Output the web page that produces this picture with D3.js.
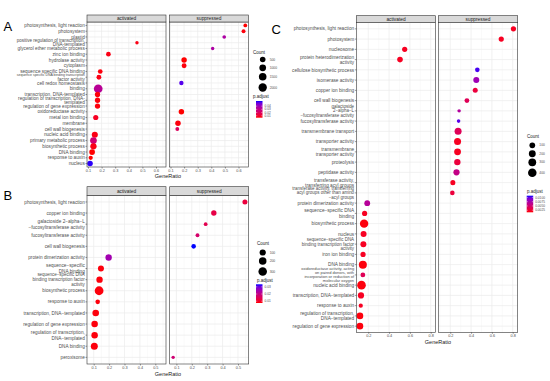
<!DOCTYPE html>
<html>
<head>
<meta charset="utf-8">
<script src="https://cdn.jsdelivr.net/npm/d3@7"></script>
<style>
  body { margin: 0; background: #fff; }
  svg { font-family: "Liberation Sans", Arial, sans-serif; }
</style>
</head>
<body>
<svg id="chart" width="550" height="381"></svg>
<script>
// ---- panel A data ----
var termsA = ["photosynthesis, light reaction", "photosystem", "plastid",
  "positive regulation of transcription,\nDNA-templated", "glycerol ether metabolic process",
  "zinc ion binding", "hydrolase activity", "cytoplasm", "sequence specific DNA binding",
  "sequence specific DNA binding transcription\nfactor activity", "cell redox homeostasis",
  "binding", "transcription, DNA-templated", "regulation of transcription, DNA-\ntemplated",
  "regulation of gene expression", "oxidoreductase activity", "metal ion binding", "membrane",
  "cell wall biogenesis", "nucleic acid binding", "primary metabolic process",
  "biosynthetic process", "DNA binding", "response to auxin", "nucleus"]
var groupA = ["s", "s", "s", "a", "s", "a", "s", "s", "a", "a", "s", "a", "a", "a", "a", "s", "a", "s", "s", "a", "a", "a", "a", "a", "a"]
var ratioA = [0.65, 0.637, 0.495, 0.46, 0.41, 0.25, 0.20, 0.20, 0.19, 0.18, 0.18, 0.175, 0.17, 0.17, 0.17, 0.18, 0.157, 0.155, 0.15, 0.15, 0.14, 0.14, 0.13, 0.12, 0.115]
var countA = [90, 110, 80, 60, 60, 250, 450, 300, 250, 280, 180, 2300, 400, 400, 400, 450, 380, 480, 100, 700, 1000, 800, 550, 150, 500]
var padjA = [0.004, 0.005, 0.036, 0.006, 0.036, 0.006, 0.004, 0.005, 0.005, 0.006, 0.052, 0.033, 0.005, 0.005, 0.005, 0.004, 0.008, 0.005, 0.02, 0.006, 0.025, 0.006, 0.004, 0.004, 0.055]
var countTicksA = [500, 1000, 1500, 2000]
var padjTicksA = [0.01, 0.02, 0.03, 0.04]
var xTicksA = [0.1, 0.2, 0.3, 0.4, 0.5, 0.6]

// ---- panel B data ----
var termsB = ["photosynthesis, light reaction", "copper ion binding",
  "galactoside 2\u2212alpha\u2212L\n\u2212fucosyltransferase activity", "fucosyltransferase activity",
  "cell wall biogenesis", "protein dimerization activity", "sequence\u2212specific\nDNA binding",
  "sequence\u2212specific DNA\nbinding transcription factor\nactivity", "biosynthetic process",
  "response to auxin", "transcription, DNA\u2212templated", "regulation of gene expression",
  "regulation of transcription,\nDNA\u2212templated", "DNA binding", "peroxisome"]
var groupB = ["s", "s", "s", "s", "s", "a", "a", "a", "a", "a", "a", "a", "a", "a", "s"]
var ratioB = [0.545, 0.343, 0.29, 0.237, 0.212, 0.197, 0.147, 0.138, 0.135, 0.126, 0.113, 0.106, 0.106, 0.104, 0.079]
var countB = [43, 58, 16, 17, 30, 112, 88, 112, 330, 30, 125, 120, 118, 155, 15]
var padjB = [0.012, 0.013, 0.014, 0.017, 0.034, 0.025, 0.008, 0.008, 0.008, 0.008, 0.008, 0.008, 0.008, 0.008, 0.018]
var countTicksB = [100, 200, 300]
var padjTicksB = [0.01, 0.02, 0.03]
var xTicksB = [0.1, 0.2, 0.3, 0.4, 0.5]

// ---- panel C data ----
var termsC = ["photosynthesis, light reaction", "photosystem", "nucleosome",
  "protein heterodimerization\nactivity", "cellulose biosynthetic process", "isomerase activity",
  "copper ion binding", "cell wall biogenesis", "galactoside\n2\u2212alpha\u2212L\n\u2212fucosyltransferase activity",
  "fucosyltransferase activity", "transmembrane transport", "transporter activity",
  "transmembrane\ntransporter activity", "proteolysis", "peptidase activity",
  "transferase activity,\ntransferring acyl groups",
  "transferase activity, transferring\nacyl groups other than amino\n\u2212acyl groups",
  "protein dimerization activity", "sequence\u2212specific DNA\nbinding", "biosynthetic process",
  "nucleus", "sequence\u2212specific DNA\nbinding transcription factor\nactivity", "iron ion binding",
  "DNA binding",
  "oxidoreductase activity, acting\non paired donors, with\nincorporation or reduction of\nmolecular oxygen",
  "nucleic acid binding", "transcription, DNA\u2212templated", "response to auxin",
  "regulation of transcription,\nDNA\u2212templated", "regulation of gene expression"]
var groupC = ["s", "s", "a", "a", "s", "s", "s", "s", "s", "s", "s", "s", "s", "s", "s", "s", "s",
  "a", "a", "a", "a", "a", "a", "a", "a", "a", "a", "a", "a", "a"]
var ratioC = [0.807, 0.69, 0.55, 0.505, 0.46, 0.45, 0.44, 0.36, 0.285, 0.28, 0.275, 0.27, 0.27, 0.268, 0.26, 0.225, 0.22,
  0.19, 0.165, 0.16, 0.155, 0.153, 0.15, 0.148, 0.148, 0.135, 0.13, 0.128, 0.12, 0.12]
var countC = [69, 69, 69, 93, 42, 121, 59, 50, 16, 17, 211, 211, 190, 154, 137, 59, 42,
  107, 69, 381, 121, 121, 69, 327, 50, 410, 137, 29, 172, 172]
var padjC = [0.002, 0.002, 0.002, 0.002, 0.0105, 0.008, 0.003, 0.004, 0.007, 0.0102, 0.004, 0.002, 0.002, 0.003, 0.006, 0.002, 0.003,
  0.0068, 0.002, 0.0015, 0.002, 0.002, 0.002, 0.0015, 0.004, 0.0015, 0.002, 0.002, 0.0015, 0.0015]
var countTicksC = [100, 200, 300, 400]
var padjTicksC = [0.0025, 0.005, 0.0075, 0.01]
var xTicksC = [0.2, 0.4, 0.6, 0.8]

var svg = d3.select("#chart")
var defs = svg.append("defs")
var txtCol = "#4d4d4d"
var lineCol = "#333333"

// size scale with an offset like ggplot's area palette
function makeSize(vmin, vmax, rmin, rmax) {
    var s = d3.scaleSqrt().domain([0, vmax - vmin]).range([0, rmax - rmin])
    return function(v) { return rmin + s(Math.max(0, v - vmin)) }
}

function drawPanel(p) {
    var g = svg.append("g")
    var color = d3.scaleLinear().domain(p.colorDomain).range(["red", "blue"]).interpolate(d3.interpolateLab)
    var size = makeSize(p.sizeDomain[0], p.sizeDomain[1], p.sizeRange[0], p.sizeRange[1])
    var y = d3.scalePoint().domain(p.terms).range(p.yRange).padding(0.6)

    var facets = [
        { key: "a", name: "activated", x: d3.scaleLinear().domain(p.xDomain).range(p.xa) },
        { key: "s", name: "suppressed", x: d3.scaleLinear().domain(p.xDomain).range(p.xs) }
    ]

    facets.forEach(function(f) {
        var x0 = f.x.range()[0], x1 = f.x.range()[1]
        var y0 = p.yRange[0], y1 = p.yRange[1]
        g.append("rect").attr("x", x0).attr("y", y0).attr("width", x1 - x0).attr("height", y1 - y0).attr("fill", "#fff")
        // minor grid
        p.xMinor.forEach(function(v) {
            g.append("line").attr("x1", f.x(v)).attr("x2", f.x(v)).attr("y1", y0).attr("y2", y1)
                .attr("stroke", "#f2f2f2").attr("stroke-width", 0.4)
        })
        p.xTicks.forEach(function(v) {
            g.append("line").attr("x1", f.x(v)).attr("x2", f.x(v)).attr("y1", y0).attr("y2", y1)
                .attr("stroke", "#ebebeb").attr("stroke-width", 0.7)
        })
        p.terms.forEach(function(t) {
            g.append("line").attr("x1", x0).attr("x2", x1).attr("y1", y(t)).attr("y2", y(t))
                .attr("stroke", "#ebebeb").attr("stroke-width", 0.7)
        })

        // points
        p.terms.forEach(function(t, i) {
            if (p.groups[i] != f.key) return
            g.append("circle").attr("cx", f.x(p.ratios[i])).attr("cy", y(t))
                .attr("r", size(p.counts[i])).attr("fill", color(p.padj[i]))
        })

        g.append("rect").attr("x", x0).attr("y", y0).attr("width", x1 - x0).attr("height", y1 - y0)
            .attr("fill", "none").attr("stroke", lineCol).attr("stroke-width", 0.6)

        // strip
        g.append("rect").attr("x", x0).attr("y", p.strip[0]).attr("width", x1 - x0).attr("height", p.strip[1] - p.strip[0])
            .attr("fill", "#d9d9d9").attr("stroke", lineCol).attr("stroke-width", 0.6)
        g.append("text").attr("x", (x0 + x1) / 2).attr("y", (p.strip[0] + p.strip[1]) / 2)
            .attr("dy", "0.35em").attr("text-anchor", "middle").attr("font-size", p.stripFont)
            .attr("fill", "#1a1a1a").text(f.name)

        // x axis
        var ax = g.append("g").attr("transform", "translate(0," + y1 + ")")
            .call(d3.axisBottom(f.x).tickValues(p.xTicks).tickSize(1.5).tickPadding(1)
                .tickFormat(d3.format(".1f")))
        ax.select(".domain").remove()
        ax.selectAll("line").attr("stroke", lineCol).attr("stroke-width", 0.5)
        ax.selectAll("text").attr("font-size", p.tickFont).attr("fill", txtCol).attr("font-family", null)
    })

    // y labels; long multi-line labels are set a bit tighter
    var left = p.xa[0]
    p.terms.forEach(function(t) {
        g.append("line").attr("x1", left - 1.5).attr("x2", left).attr("y1", y(t)).attr("y2", y(t))
            .attr("stroke", lineCol).attr("stroke-width", 0.5)
        var lines = t.split("\n")
        var fs = p.labelFont, lh = p.lineH
        if (lines.length == 3) { fs = p.labelFont * 0.95; lh = p.lineH * 0.9 }
        if (lines.length >= 4) { fs = p.labelFont * 0.85; lh = p.lineH * 0.76 }
        var txt = g.append("text").attr("x", left - 2.2).attr("y", y(t)).attr("text-anchor", "end")
            .attr("font-size", fs).attr("fill", txtCol)
        lines.forEach(function(l, j) {
            var ts = txt.append("tspan").attr("x", left - 2.2)
                .attr("y", y(t) + (j - (lines.length - 1) / 2) * lh).attr("dy", "0.35em").text(l)
            var w = ts.node().getComputedTextLength()
            if (w > p.labelMaxW) ts.attr("font-size", fs * p.labelMaxW / w)
        })
    })

    // x title
    g.append("text").attr("x", p.xTitle[0]).attr("y", p.xTitle[1]).attr("text-anchor", "middle")
        .attr("font-size", 5.5).attr("fill", "#1a1a1a").text("GeneRatio")

    // panel letter
    g.append("text").attr("x", p.letter[1]).attr("y", p.letter[2]).attr("font-size", 13)
        .attr("fill", "#000").text(p.letter[0])

    // size legend
    var L = p.legend
    g.append("text").attr("x", L.x).attr("y", L.countY).attr("font-size", 4.5).attr("fill", "#1a1a1a").text("Count")
    p.countTicks.forEach(function(v, i) {
        g.append("circle").attr("cx", L.cx).attr("cy", L.circY[i]).attr("r", size(v)).attr("fill", "#000")
        g.append("text").attr("x", L.cx + 7).attr("y", L.circY[i]).attr("dy", "0.35em")
            .attr("font-size", 3.3).attr("fill", txtCol).text(v)
    })

    // colour bar
    var gid = "grad" + p.letter[0]
    var grad = defs.append("linearGradient").attr("id", gid).attr("x1", 0).attr("x2", 0).attr("y1", 1).attr("y2", 0)
    d3.range(0, 1.0001, 0.1).forEach(function(t) {
        var v = p.colorDomain[0] + t * (p.colorDomain[1] - p.colorDomain[0])
        grad.append("stop").attr("offset", t).attr("stop-color", color(v))
    })
    g.append("text").attr("x", L.x).attr("y", L.padjY).attr("font-size", 4.5).attr("fill", "#1a1a1a").text("p.adjust")
    var bar = d3.scaleLinear().domain(p.colorDomain).range([L.bar[1], L.bar[0]])
    g.append("rect").attr("x", L.barX).attr("y", L.bar[0]).attr("width", 6.5).attr("height", L.bar[1] - L.bar[0])
        .attr("fill", "url(#" + gid + ")")
    p.padjTicks.forEach(function(v) {
        g.append("line").attr("x1", L.barX).attr("x2", L.barX + 1.3).attr("y1", bar(v)).attr("y2", bar(v))
            .attr("stroke", "#fff").attr("stroke-width", 0.4)
        g.append("line").attr("x1", L.barX + 5.2).attr("x2", L.barX + 6.5).attr("y1", bar(v)).attr("y2", bar(v))
            .attr("stroke", "#fff").attr("stroke-width", 0.4)
        g.append("text").attr("x", L.barX + 8.5).attr("y", bar(v)).attr("dy", "0.35em")
            .attr("font-size", 3.2).attr("fill", txtCol).text(p.padjFormat(v))
    })
}

drawPanel({
    letter: ["A", 3.5, 31], terms: termsA, groups: groupA, ratios: ratioA, counts: countA, padj: padjA,
    xDomain: [0.0926, 0.6735], xa: [87, 166], xs: [169.5, 248.5], yRange: [22, 167], strip: [15, 22],
    xTicks: xTicksA, xMinor: [0.15, 0.25, 0.35, 0.45, 0.55, 0.65],
    colorDomain: [0.004, 0.056], sizeDomain: [50, 2350], sizeRange: [1.5, 4.4],
    labelFont: 4.7, lineH: 4.2, labelMaxW: 68, stripFont: 4.8, tickFont: 3.8, xTitle: [168, 178],
    countTicks: countTicksA, padjTicks: padjTicksA, padjFormat: d3.format(".2f"),
    legend: { x: 253, countY: 53.5, cx: 262.7, circY: [59.5, 67.8, 76.8, 87.5], padjY: 98, barX: 256, bar: [101, 117.7] }
})

drawPanel({
    letter: ["B", 3.5, 200], terms: termsB, groups: groupB, ratios: ratioB, counts: countB, padj: padjB,
    xDomain: [0.0565, 0.5695], xa: [87, 166], xs: [169.7, 248.7], yRange: [195.3, 364], strip: [186.7, 195.3],
    xTicks: xTicksB, xMinor: [0.15, 0.25, 0.35, 0.45, 0.55],
    colorDomain: [0.0075, 0.0335], sizeDomain: [15, 330], sizeRange: [1.7, 4.4],
    labelFont: 4.7, lineH: 5.6, labelMaxW: 68, stripFont: 4.8, tickFont: 3.8, xTitle: [168, 376],
    countTicks: countTicksB, padjTicks: padjTicksB, padjFormat: d3.format(".2f"),
    legend: { x: 257, countY: 245, cx: 262.7, circY: [252.5, 261, 271.5], padjY: 281.5, barX: 256, bar: [284.3, 303] }
})

drawPanel({
    letter: ["C", 271.5, 34.3], terms: termsC, groups: groupC, ratios: ratioC, counts: countC, padj: padjC,
    xDomain: [0.085, 0.848], xa: [356.3, 435.7], xs: [438.3, 517.7], yRange: [22.7, 332.3], strip: [15.7, 22.7],
    xTicks: xTicksC, xMinor: [0.1, 0.3, 0.5, 0.7],
    colorDomain: [0.0013, 0.011], sizeDomain: [15, 440], sizeRange: [1.6, 4.4],
    labelFont: 4.7, lineH: 5.2, labelMaxW: 67, stripFont: 4.8, tickFont: 3.8, xTitle: [438, 343.5],
    countTicks: countTicksC, padjTicks: padjTicksC, padjFormat: d3.format(".4f"),
    legend: { x: 527, countY: 138, cx: 532.3, circY: [145.3, 153.7, 162.3, 172.7], padjY: 192.5, barX: 526.7, bar: [195.7, 212.3] }
})
</script>
</body>
</html>
